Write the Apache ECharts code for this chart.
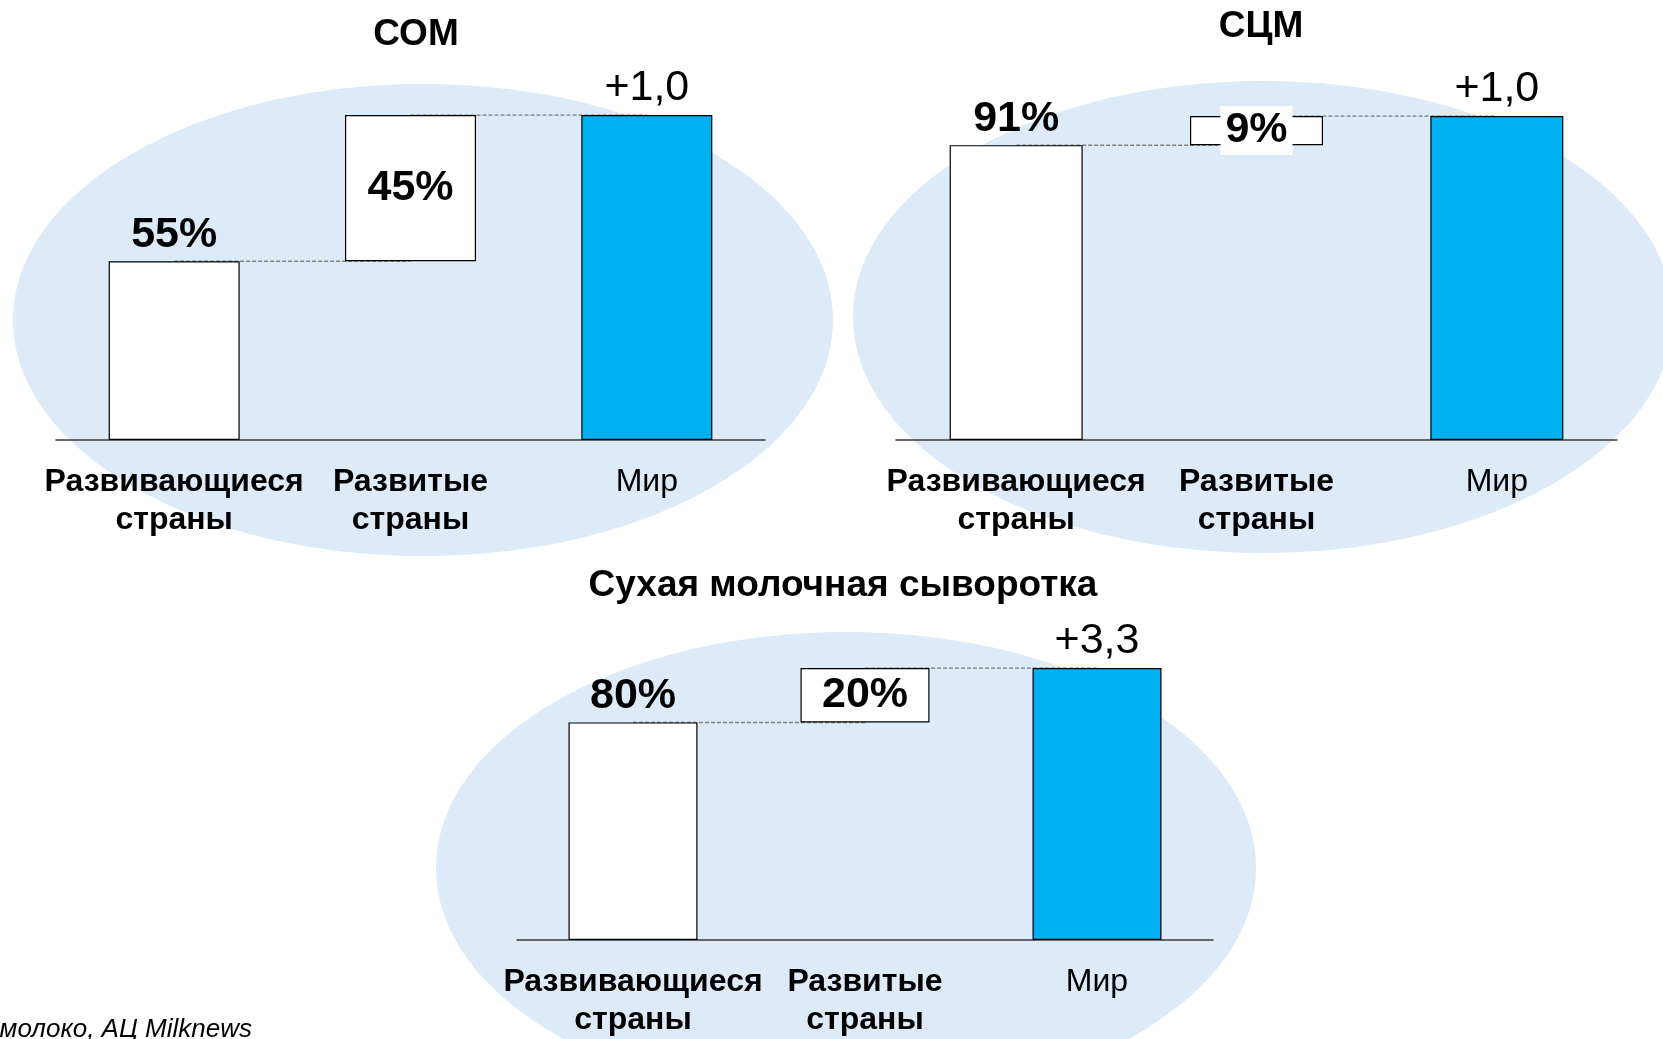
<!DOCTYPE html>
<html>
<head>
<meta charset="utf-8">
<script src="https://cdn.jsdelivr.net/npm/echarts@6/dist/echarts.min.js"></script>
<style>
  html, body { margin: 0; padding: 0; background: #fff; }
  #picture { width: 1663px; height: 1039px; }
</style>
</head>
<body>
<div id="picture"></div>
<script>
// данные
var titles = ['СОМ', 'СЦМ', 'Сухая молочная сыворотка'];
var categories = ['Развивающиеся\nстраны', 'Развитые\nстраны', 'Мир'];
var devShare = [0.55, 0.91, 0.80];      // развивающиеся страны
var dvdShare = [0.45, 0.09, 0.20];      // развитые страны
var worldGrowth = [1.0, 1.0, 3.3];      // прирост, мир
var source = 'молоко, АЦ Milknews';

var FONT = '"Liberation Sans", Arial, sans-serif';

// расположение трёх графиков
var grids = [
    {left: 56, top: 115, width: 709, height: 325},
    {left: 896, top: 116, width: 721, height: 324},
    {left: 517, top: 668, width: 696, height: 272}
];
var barW = [131, 133, 129];
var titlePos = [[411, 11], [1256, 3], [838, 562]];
var ellipses = [[423, 320], [1263, 317], [846, 868]];

function pct(v) {
    return Math.round(v * 100) + '%';
}

function growth(v) {
    return '+' + v.toFixed(1).replace('.', ',');
}

var option = {
    backgroundColor: '#fff',
    textStyle: {fontFamily: FONT},
    title: [],
    grid: [],
    xAxis: [],
    yAxis: [],
    series: [],
    graphic: []
};

for (var i = 0; i < 3; i++) {
    option.title.push({
        text: titles[i],
        left: titlePos[i][0],
        top: titlePos[i][1],
        textAlign: 'center',
        textStyle: {fontFamily: FONT, fontSize: 37, fontWeight: 'bold', color: '#000'}
    });
    option.grid.push(grids[i]);
    option.xAxis.push({
        type: 'category',
        gridIndex: i,
        data: [categories[0], categories[1], {value: categories[2], textStyle: {fontWeight: 'normal'}}],
        axisTick: {show: false},
        axisLine: {lineStyle: {color: '#3a3a3a', width: 1.5}},
        axisLabel: {
            interval: 0,
            margin: 23,
            fontFamily: FONT,
            fontSize: 32,
            lineHeight: 38,
            fontWeight: 'bold',
            color: '#000'
        }
    });
    option.yAxis.push({
        type: 'value',
        gridIndex: i,
        min: 0,
        max: 1,
        show: false
    });

    var total = devShare[i] + dvdShare[i];

    // пунктирные соединители
    option.series.push({
        type: 'line',
        xAxisIndex: i, yAxisIndex: i,
        data: [devShare[i], devShare[i], '-'],
        symbol: 'none', silent: true, z: 1,
        lineStyle: {color: '#7f7f7f', width: 1.5, type: [4, 2]}
    });
    option.series.push({
        type: 'line',
        xAxisIndex: i, yAxisIndex: i,
        data: ['-', total, total],
        symbol: 'none', silent: true, z: 1,
        lineStyle: {color: '#7f7f7f', width: 1.5, type: [4, 2]}
    });

    // невидимое основание
    option.series.push({
        type: 'bar',
        xAxisIndex: i, yAxisIndex: i,
        stack: 's' + i,
        barWidth: barW[i],
        silent: true,
        itemStyle: {color: 'transparent'},
        data: [0, devShare[i], 0]
    });

    var inside = {
        show: true,
        position: 'inside',
        fontFamily: FONT,
        fontSize: 43,
        fontWeight: 'bold',
        color: '#000',
        formatter: function (p) { return pct(p.value); }
    };
    if (i == 1) {
        inside.backgroundColor = '#fff';
        inside.padding = [4, 5, 2, 5];
    }

    option.series.push({
        type: 'bar',
        xAxisIndex: i, yAxisIndex: i,
        stack: 's' + i,
        barWidth: barW[i],
        z: 3,
        itemStyle: {borderColor: '#000', borderWidth: 1.2},
        data: [
            {
                value: devShare[i],
                itemStyle: {color: '#fff'},
                label: {
                    show: true, position: 'top', distance: 5,
                    fontFamily: FONT, fontSize: 43, fontWeight: 'bold', color: '#000',
                    formatter: function (p) { return pct(p.value); }
                }
            },
            {
                value: dvdShare[i],
                itemStyle: {color: '#fff'},
                label: inside
            },
            {
                value: total,
                itemStyle: {color: '#00B0F0'},
                label: {
                    show: true, position: 'top', distance: 5,
                    fontFamily: FONT, fontSize: 43, color: '#000',
                    formatter: growth(worldGrowth[i])
                }
            }
        ]
    });

    option.graphic.push({
        type: 'ellipse',
        z: -10,
        silent: true,
        shape: {cx: ellipses[i][0], cy: ellipses[i][1], rx: 410, ry: 236},
        style: {fill: '#DDEBF9'}
    });
}

option.graphic.push({
    type: 'text',
    right: 1663 - 252,
    top: 1017,
    z: 10,
    style: {
        text: source,
        font: 'italic 26px ' + FONT,
        fill: '#000'
    }
});

var myChart = echarts.init(document.getElementById('picture'));
myChart.setOption(option);
</script>
</body>
</html>
